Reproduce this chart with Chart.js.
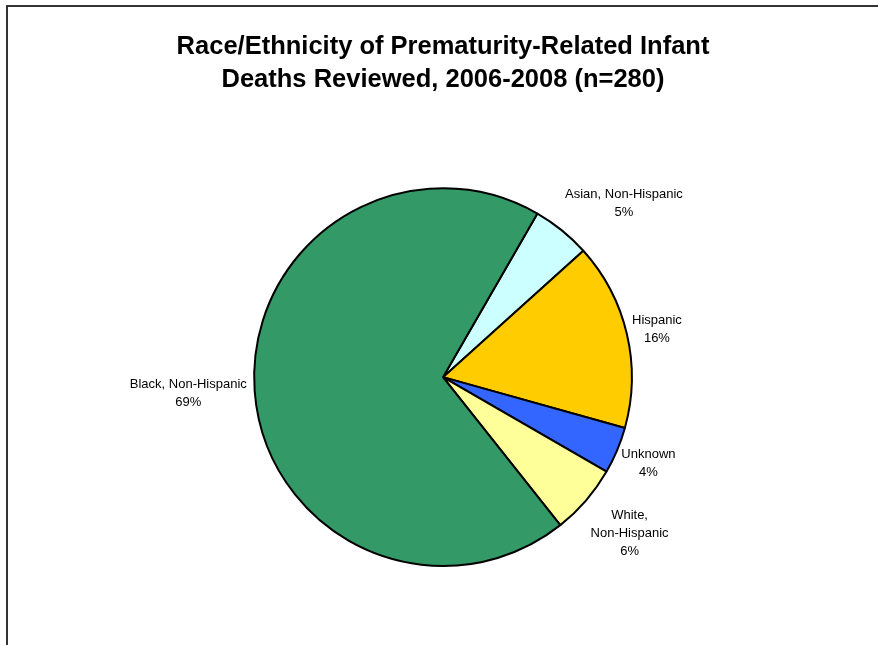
<!DOCTYPE html>
<html>
<head>
<meta charset="utf-8">
<script src="https://cdn.jsdelivr.net/npm/chart.js@4"></script>
<style>
  html, body { margin: 0; padding: 0; background: #fff; }
  canvas { display: block; }
</style>
</head>
<body>
<canvas id="pie" width="878" height="645"></canvas>
<script>
// race/ethnicity groups, clockwise starting at the Asian slice
var categories = [
    ['Asian, Non-Hispanic'],
    ['Hispanic'],
    ['Unknown'],
    ['White,', 'Non-Hispanic'],
    ['Black, Non-Hispanic']
];
var percents = [5, 16, 4, 6, 69];
var colors = ['#CCFFFF', '#FFCC00', '#3366FF', '#FFFF99', '#339966'];

var titleLines = ['Race/Ethnicity of Prematurity-Related Infant', 'Deaths Reviewed, 2006-2008 (n=280)'];

// small hand adjustments to where each slice label sits (px)
var labelShift = [[20, -7], [-2, 1], [-1, 3], [8, 10], [0, 1]];

// frame round the chart (only top and left show inside the window)
var framePlugin = {
    id: 'frame',
    beforeDraw: function(chart) {
        var ctx = chart.ctx;
        ctx.save();
        ctx.fillStyle = '#333';
        ctx.fillRect(6, 5, 2, chart.height);
        ctx.fillRect(6, 5, chart.width, 2);
        ctx.restore();
    }
};

// category name + percent outside each slice
var labelPlugin = {
    id: 'sliceLabels',
    afterDatasetsDraw: function(chart) {
        var ctx = chart.ctx;
        var meta = chart.getDatasetMeta(0);
        var lineH = 18;
        var gap = 8;
        ctx.save();
        ctx.font = '13px "Liberation Sans", Arial, sans-serif';
        ctx.fillStyle = '#000';
        ctx.textAlign = 'center';
        ctx.textBaseline = 'middle';
        meta.data.forEach(function(arc, i) {
            var p = arc.getProps(['x', 'y', 'startAngle', 'endAngle', 'outerRadius']);
            var mid = (p.startAngle + p.endAngle) / 2;
            var lines = categories[i].concat([percents[i] + '%']);
            var w = 0;
            lines.forEach(function(t) { w = Math.max(w, ctx.measureText(t).width); });
            var h = lines.length * lineH;
            var cx = p.x + Math.cos(mid) * (p.outerRadius + gap + w / 2) + labelShift[i][0];
            var cy = p.y + Math.sin(mid) * (p.outerRadius + gap + h / 2) + labelShift[i][1];
            var top = cy - h / 2 + lineH / 2;
            lines.forEach(function(t, k) {
                ctx.fillText(t, cx, top + k * lineH);
            });
        });
        ctx.restore();
    }
};

var chart = new Chart(document.getElementById('pie'), {
    type: 'pie',
    data: {
        labels: categories.map(function(c) { return c.join(' '); }),
        datasets: [{
            data: percents,
            backgroundColor: colors,
            borderColor: '#000',
            borderWidth: 2,
            hoverOffset: 0
        }]
    },
    options: {
        responsive: false,
        animation: false,
        rotation: 30,
        layout: {
            padding: { left: 8, right: 0, top: 0, bottom: 78 }
        },
        plugins: {
            legend: { display: false },
            tooltip: { enabled: false },
            title: {
                display: true,
                text: titleLines,
                color: '#000',
                font: { family: '"Liberation Sans", Arial, sans-serif', size: 25.5, weight: 'bold', lineHeight: 1.3 },
                padding: { top: 30, bottom: 91 }
            }
        }
    },
    plugins: [framePlugin, labelPlugin]
});
</script>
</body>
</html>
